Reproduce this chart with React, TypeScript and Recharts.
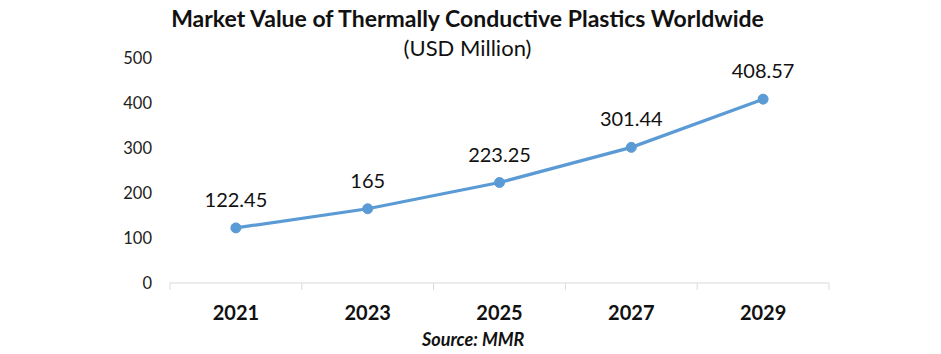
import { LineChart, Line, XAxis, YAxis, LabelList } from "recharts";

const YEARS = ["2021", "2023", "2025", "2027", "2029"];
const VALUES = [122.45, 165, 223.25, 301.44, 408.57];
const Y_TICKS = [0, 100, 200, 300, 400, 500];

const W = 941;
const H = 354;
const MARGIN = { top: 58, right: 112, bottom: 31, left: 110 };
const Y_AXIS_W = 60;
const FONT = "Lato, 'Open Sans', sans-serif";
const LINE_COLOR = "#5b9bd5";
const AXIS_COLOR = "#d9d9d9";

const data = YEARS.map((year, i) => ({ year, value: VALUES[i] }));

// width of one category band, from the plot layout
const BAND = (W - MARGIN.left - MARGIN.right - Y_AXIS_W) / YEARS.length;

function YearTick(props: any) {
  const { x, y, payload, index } = props;
  const last = index === YEARS.length - 1;
  return (
    <g>
      <line x1={x - BAND / 2} x2={x - BAND / 2} y1={y - 8} y2={y - 1} stroke={AXIS_COLOR} />
      {last && (
        <line x1={x + BAND / 2} x2={x + BAND / 2} y1={y - 8} y2={y - 1} stroke={AXIS_COLOR} />
      )}
      <text
        x={x}
        y={y + 29}
        textAnchor="middle"
        fontFamily={FONT}
        fontWeight={700}
        fontSize={20}
        fill="#111"
      >
        {payload.value}
      </text>
    </g>
  );
}

export default function App() {
  return (
    <div style={{ position: "relative", width: W, height: H, background: "#fff", fontFamily: FONT }}>
      <style>{`body{margin:0}`}</style>
      <div
        style={{
          position: "absolute",
          top: 3,
          left: 0,
          width: W - 6,
          textAlign: "center",
          fontSize: 23,
          lineHeight: "30px",
          fontWeight: 700,
          color: "#111",
        }}
      >
        Market Value of Thermally Conductive Plastics Worldwide
      </div>
      <div
        style={{
          position: "absolute",
          top: 33,
          left: 0,
          width: W - 6,
          textAlign: "center",
          fontSize: 22,
          lineHeight: "30px",
          color: "#111",
        }}
      >
        (USD Million)
      </div>
      <LineChart width={W} height={H} data={data} margin={MARGIN}>
        <XAxis
          dataKey="year"
          axisLine={{ stroke: AXIS_COLOR }}
          tickLine={false}
          tick={<YearTick />}
          height={40}
          interval={0}
          padding={{ left: BAND / 2, right: BAND / 2 }}
        />
        <YAxis
          domain={[0, 500]}
          ticks={Y_TICKS}
          width={Y_AXIS_W}
          axisLine={false}
          tickLine={false}
          tickMargin={12}
          tick={{ fontFamily: FONT, fontSize: 16.5, fill: "#222" }}
        />
        <Line
          type="linear"
          dataKey="value"
          stroke={LINE_COLOR}
          strokeWidth={3.2}
          dot={{ r: 5, fill: LINE_COLOR, stroke: LINE_COLOR, strokeWidth: 1 }}
          isAnimationActive={false}
        >
          <LabelList
            dataKey="value"
            position="top"
            offset={21}
            style={{ fontFamily: FONT, fontSize: 20, fill: "#111" }}
          />
        </Line>
      </LineChart>
      <div
        style={{
          position: "absolute",
          top: 327,
          left: 422,
          fontSize: 18,
          lineHeight: "24px",
          fontWeight: 700,
          fontStyle: "italic",
          color: "#111",
        }}
      >
        Source: MMR
      </div>
    </div>
  );
}
